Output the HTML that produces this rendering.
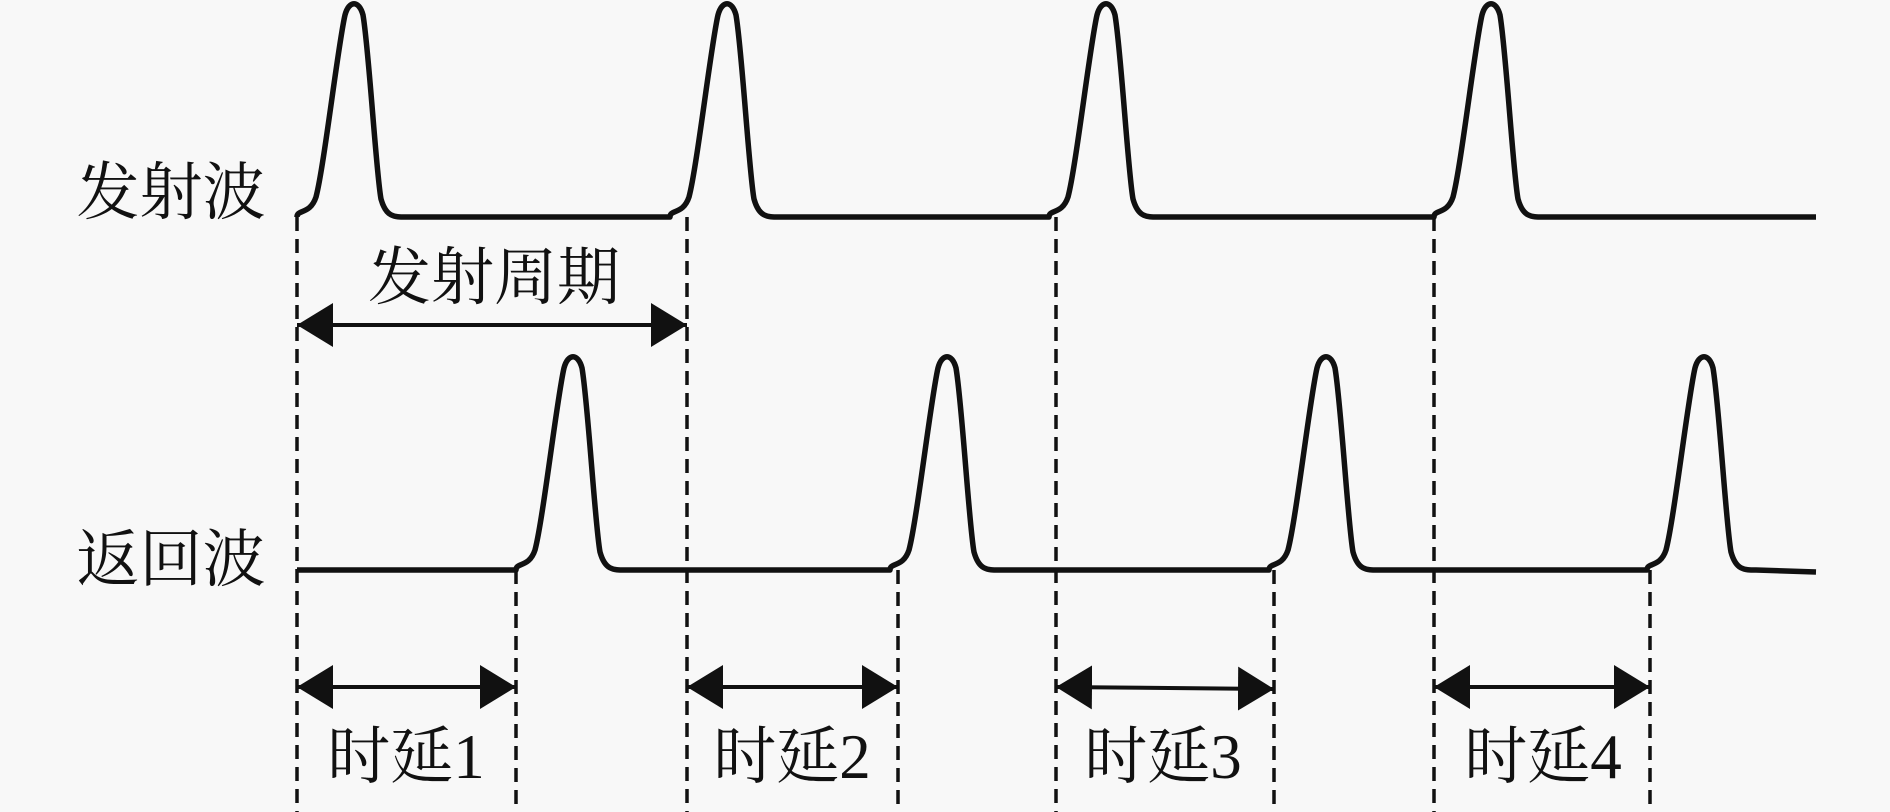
<!DOCTYPE html>
<html><head><meta charset="utf-8"><style>
html,body{margin:0;padding:0;background:#f8f8f8;}
svg{display:block}
text{font-family:"Liberation Serif","Noto Serif CJK SC",serif;font-size:63px;fill:#111;}
</style></head><body>
<svg id="s" width="1890" height="812" viewBox="0 0 1890 812" xmlns="http://www.w3.org/2000/svg">
<defs>
<marker id="ah" viewBox="0 0 36 44" refX="36" refY="22" markerWidth="36" markerHeight="44" markerUnits="userSpaceOnUse" orient="auto-start-reverse">
<path d="M0,0 L36,22 L0,44 Z" fill="#111"/>
</marker>
</defs>
<g stroke="#111" stroke-width="3.5" stroke-dasharray="14,8" fill="none">
<line x1="297" y1="217" x2="297" y2="812"/>
<line x1="687" y1="217" x2="687" y2="812"/>
<line x1="1056" y1="217" x2="1056" y2="812"/>
<line x1="1434" y1="217" x2="1434" y2="812"/>
<line x1="516" y1="570" x2="516" y2="812"/>
<line x1="898" y1="570" x2="898" y2="812"/>
<line x1="1274" y1="570" x2="1274" y2="812"/>
<line x1="1650" y1="570" x2="1650" y2="812"/>
</g>
<path id="tx" stroke="#111" stroke-width="5.5" fill="none" stroke-linejoin="round"/>
<path id="rx" stroke="#111" stroke-width="5.5" fill="none" stroke-linejoin="round"/>
<g stroke="#111" stroke-width="4">
<line x1="297" y1="325" x2="687" y2="325" marker-start="url(#ah)" marker-end="url(#ah)"/>
<line x1="297" y1="687" x2="516" y2="687" marker-start="url(#ah)" marker-end="url(#ah)"/>
<line x1="687" y1="687" x2="898" y2="687" marker-start="url(#ah)" marker-end="url(#ah)"/>
<line x1="1056" y1="687" x2="1274" y2="689" marker-start="url(#ah)" marker-end="url(#ah)"/>
<line x1="1434" y1="687" x2="1650" y2="687" marker-start="url(#ah)" marker-end="url(#ah)"/>
</g>
<text x="171" y="193" text-anchor="middle" dominant-baseline="central">发射波</text>
<text x="171" y="560" text-anchor="middle" dominant-baseline="central">返回波</text>
<text x="494" y="278" text-anchor="middle" dominant-baseline="central">发射周期</text>
<text x="406" y="757" text-anchor="middle" dominant-baseline="central">时延1</text>
<text x="792" y="757" text-anchor="middle" dominant-baseline="central">时延2</text>
<text x="1163" y="757" text-anchor="middle" dominant-baseline="central">时延3</text>
<text x="1543" y="757" text-anchor="middle" dominant-baseline="central">时延4</text>
</svg>
<script>
function pulse(P,b,top){
 return "L"+(P-57)+","+b+
 " C"+(P-57)+","+(b-8)+" "+(P-44)+","+(b-2)+" "+(P-38)+","+(b-20)+
 " C"+(P-30)+","+(b-50)+" "+(P-16)+","+(top+40)+" "+(P-9)+","+(top+10)+
 " C"+(P-5)+","+(top-5)+" "+(P+5)+","+(top-5)+" "+(P+9)+","+(top+10)+
 " C"+(P+15)+","+(top+45)+" "+(P+22)+","+(b-45)+" "+(P+27)+","+(b-18)+
 " C"+(P+32)+","+b+" "+(P+40)+","+b+" "+(P+52)+","+b;
}
var d="M297,217";
[354,727,1106,1491].forEach(function(P){d+=" "+pulse(P,217,5);});
d+=" L1816,217";
document.getElementById("tx").setAttribute("d",d);
var r="M297,570";
[573,947,1326,1704].forEach(function(P){r+=" "+pulse(P,570,358);});
r+=" L1816,572";
document.getElementById("rx").setAttribute("d",r);
</script>
</body></html>
